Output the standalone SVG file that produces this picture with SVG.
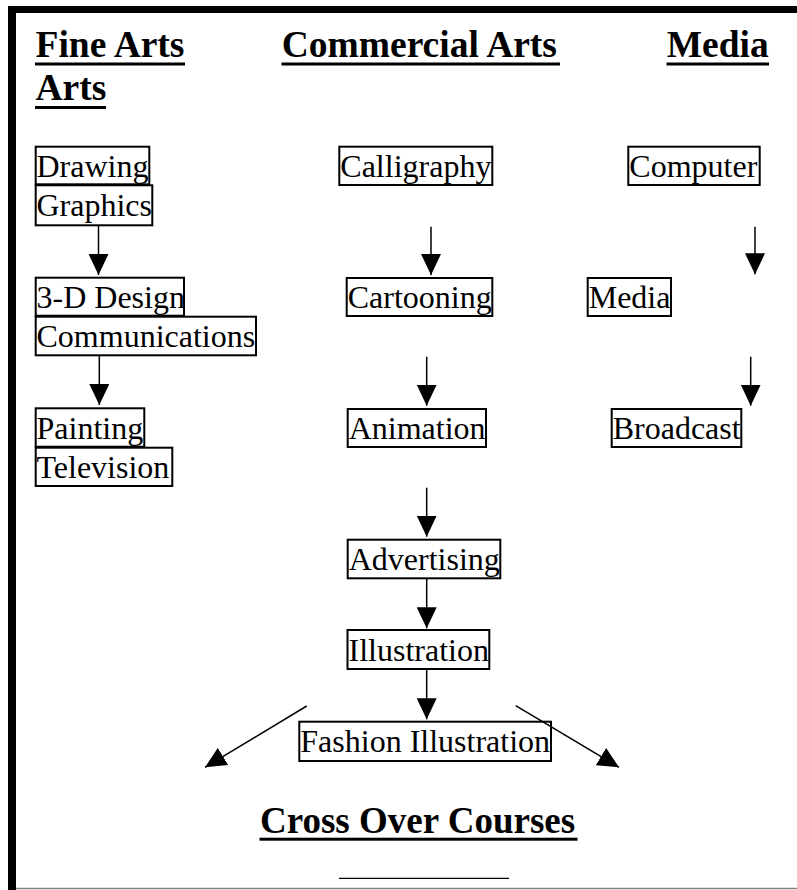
<svg xmlns="http://www.w3.org/2000/svg" width="797" height="890" viewBox="0 0 797 890">
<style>
.hd{font-family:"Liberation Serif","Times New Roman",serif;font-weight:bold;font-size:37.5px;fill:#000}
.bx{fill:#fff;stroke:#000;stroke-width:2}
.tx{font-family:"Liberation Serif","Times New Roman",serif;font-size:32px;fill:#000}
.cn{stroke:#000;stroke-width:1.5;fill:none;marker-end:url(#ah)}
</style>
<defs>
<marker id="ah" markerUnits="userSpaceOnUse" markerWidth="21" markerHeight="20" viewBox="0 0 21 20" refX="21" refY="10" orient="auto">
<path d="M0,0 L21,10 L0,20 z" fill="#000"/>
</marker>
</defs>
<rect width="797" height="890" fill="#fff"/>
<g id="frame">
<rect x="8" y="6" width="789" height="7" fill="#000"/>
<rect x="8" y="6" width="8" height="884" fill="#000"/>
<line x1="16" y1="888.5" x2="797" y2="888.5" stroke="#808080" stroke-width="1.5"/>
</g>
<g id="headings">
<text class="hd" x="35.5" y="57">Fine Arts</text>
<rect x="35" y="62.5" width="150" height="3"/>
<text class="hd" x="35.5" y="100">Arts</text>
<rect x="35" y="106" width="71" height="3"/>
<text class="hd" x="281.7" y="57">Commercial Arts</text>
<rect x="281.5" y="62.5" width="278.5" height="3"/>
<text class="hd" x="666.7" y="57">Media</text>
<rect x="666.5" y="62.5" width="102.5" height="3"/>
</g>
<g id="n-drawing"><rect class="bx" x="35.7" y="146.7" width="113.6" height="37.6"/><text class="tx" x="36.5" y="176.5">Drawing</text></g>
<g id="n-graphics"><rect class="bx" x="35.7" y="185.3" width="116.6" height="40"/><text class="tx" x="36.5" y="216">Graphics</text></g>
<g id="n-calligraphy"><rect class="bx" x="339.3" y="146.7" width="153" height="38.3"/><text class="tx" x="340.3" y="176.5">Calligraphy</text></g>
<g id="n-computer"><rect class="bx" x="628.3" y="146.7" width="131.4" height="38.3"/><text class="tx" x="629.3" y="176.5">Computer</text></g>
<g id="n-3d"><rect class="bx" x="35.7" y="277.7" width="148.3" height="38"/><text class="tx" x="36.5" y="308">3-D Design</text></g>
<g id="n-communications"><rect class="bx" x="35.7" y="316.7" width="220.3" height="38.6"/><text class="tx" x="36.5" y="347">Communications</text></g>
<g id="n-cartooning"><rect class="bx" x="346.7" y="278" width="145.6" height="38"/><text class="tx" x="347.7" y="308">Cartooning</text></g>
<g id="n-media"><rect class="bx" x="587.7" y="278" width="83.3" height="38"/><text class="tx" x="588.7" y="308">Media</text></g>
<g id="n-painting"><rect class="bx" x="35.7" y="408.3" width="108.6" height="38.4"/><text class="tx" x="36.5" y="439">Painting</text></g>
<g id="n-television"><rect class="bx" x="35.7" y="447.7" width="136.6" height="38.3"/><text class="tx" x="36.5" y="478">Television</text></g>
<g id="n-animation"><rect class="bx" x="347.7" y="409" width="138.3" height="38"/><text class="tx" x="348.7" y="439">Animation</text></g>
<g id="n-broadcast"><rect class="bx" x="611.7" y="409" width="129.6" height="38"/><text class="tx" x="612.7" y="439">Broadcast</text></g>
<g id="n-advertising"><rect class="bx" x="347.7" y="539.7" width="152.6" height="38.6"/><text class="tx" x="348.7" y="570">Advertising</text></g>
<g id="n-illustration"><rect class="bx" x="347.5" y="630" width="141.8" height="39"/><text class="tx" x="348.5" y="661">Illustration</text></g>
<g id="n-fashion"><rect class="bx" x="299.3" y="721.7" width="251.7" height="39.3"/><text class="tx" x="300.3" y="752">Fashion Illustration</text></g>
<g id="connectors">
<line class="cn" x1="98.5" y1="225.5" x2="98.5" y2="275"/>
<line class="cn" x1="99.3" y1="355.5" x2="99.3" y2="405"/>
<line class="cn" x1="431" y1="226.7" x2="431" y2="275"/>
<line class="cn" x1="426.7" y1="356.7" x2="426.7" y2="405.7"/>
<line class="cn" x1="426.7" y1="487.7" x2="426.7" y2="536.7"/>
<line class="cn" x1="426.7" y1="578.3" x2="426.7" y2="628.3"/>
<line class="cn" x1="426.7" y1="669" x2="426.7" y2="719.3"/>
<line class="cn" x1="755" y1="226.7" x2="755" y2="274.3"/>
<line class="cn" x1="750.7" y1="356.7" x2="750.7" y2="405.7"/>
<line class="cn" x1="306.7" y1="706" x2="205" y2="767.3"/>
<line class="cn" x1="515.7" y1="705.7" x2="619" y2="767.3"/>
</g>
<g id="footer">
<text class="hd" x="260" y="832.7" style="font-size:37px">Cross Over Courses</text>
<rect x="259.5" y="837.7" width="318" height="3"/>
<line x1="339" y1="878.3" x2="509" y2="878.3" stroke="#000" stroke-width="1.3"/>
</g>
</svg>
